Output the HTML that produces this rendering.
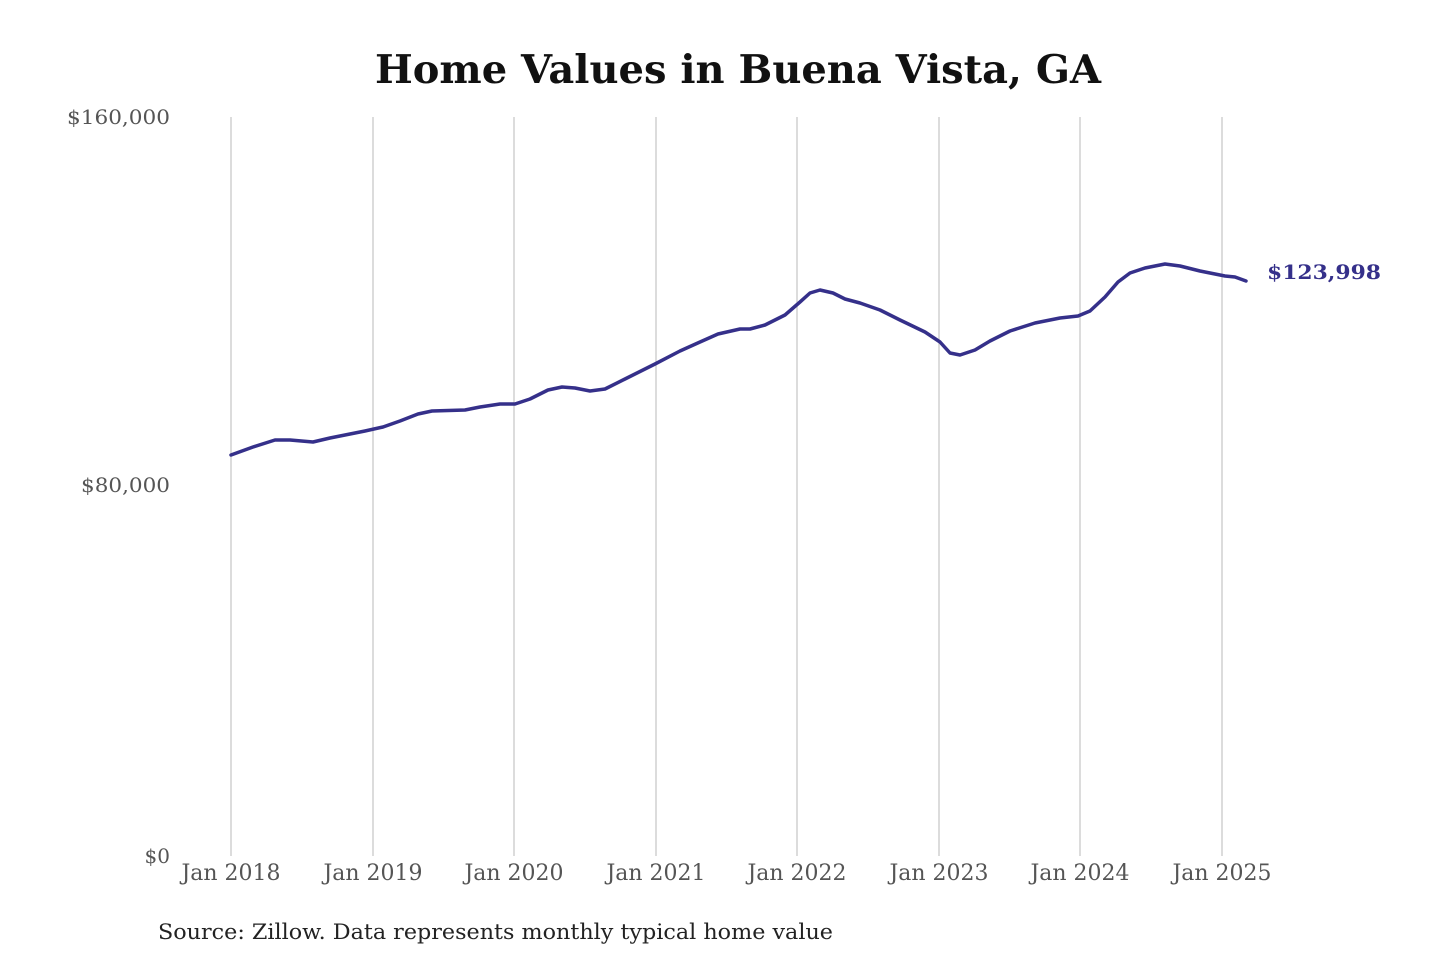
<!DOCTYPE html>
<html><head><meta charset="utf-8"><style>
body{margin:0;background:#fff;}
svg{display:block;}
</style></head><body>
<svg width="1440" height="960" xmlns="http://www.w3.org/2000/svg" font-family="'DejaVu Serif',serif">
<rect width="1440" height="960" fill="#fff"/>
<text x="375" y="83" font-size="39" font-weight="bold" fill="#111" textLength="726" lengthAdjust="spacingAndGlyphs">Home Values in Buena Vista, GA</text>
<g stroke="#c4c4c4" stroke-width="1.2">
<line x1="231" y1="117" x2="231" y2="856"/><line x1="373" y1="117" x2="373" y2="856"/>
<line x1="514" y1="117" x2="514" y2="856"/><line x1="656" y1="117" x2="656" y2="856"/>
<line x1="797" y1="117" x2="797" y2="856"/><line x1="939" y1="117" x2="939" y2="856"/>
<line x1="1080" y1="117" x2="1080" y2="856"/><line x1="1222" y1="117" x2="1222" y2="856"/>
</g>
<g font-size="20" fill="#555">
<text x="170" y="124" text-anchor="end" textLength="103" lengthAdjust="spacingAndGlyphs">$160,000</text>
<text x="170" y="492" text-anchor="end" textLength="89" lengthAdjust="spacingAndGlyphs">$80,000</text>
<text x="170" y="863" text-anchor="end">$0</text>
<g text-anchor="middle" font-size="22">
<text x="231" y="880" textLength="99" lengthAdjust="spacingAndGlyphs">Jan 2018</text><text x="373" y="880" textLength="99" lengthAdjust="spacingAndGlyphs">Jan 2019</text>
<text x="514" y="880" textLength="99" lengthAdjust="spacingAndGlyphs">Jan 2020</text><text x="656" y="880" textLength="99" lengthAdjust="spacingAndGlyphs">Jan 2021</text>
<text x="797" y="880" textLength="99" lengthAdjust="spacingAndGlyphs">Jan 2022</text><text x="939" y="880" textLength="99" lengthAdjust="spacingAndGlyphs">Jan 2023</text>
<text x="1080" y="880" textLength="99" lengthAdjust="spacingAndGlyphs">Jan 2024</text><text x="1222" y="880" textLength="99" lengthAdjust="spacingAndGlyphs">Jan 2025</text>
</g></g>
<polyline fill="none" stroke="#35308a" stroke-width="3.5" stroke-linejoin="round" stroke-linecap="round" points="231,455 253,447 275,440 290,440 313,442 330,438 350,434 365,431 383,427 400,421 418,414 432,411 465,410 480,407 500,404 515,404 530,399 548,390 562,387 575,388 590,391 605,389 625,379 655,364 680,351 700,342 718,334 740,329 750,329 765,325 785,315 800,302 810,293 820,290 833,293 845,299 860,303 880,310 900,320 925,332 940,342 950,353 960,355 975,350 990,341 1010,331 1035,323 1060,318 1078,316 1090,311 1105,297 1118,282 1130,273 1145,268 1165,264 1180,266 1200,271 1225,276 1235,277 1246,281"/>
<text x="1267" y="279" font-size="20" font-weight="bold" fill="#35308a" textLength="114" lengthAdjust="spacingAndGlyphs">$123,998</text>
<text x="158" y="939" font-size="21" fill="#222" textLength="675" lengthAdjust="spacingAndGlyphs">Source: Zillow. Data represents monthly typical home value</text>
</svg>
</body></html>
